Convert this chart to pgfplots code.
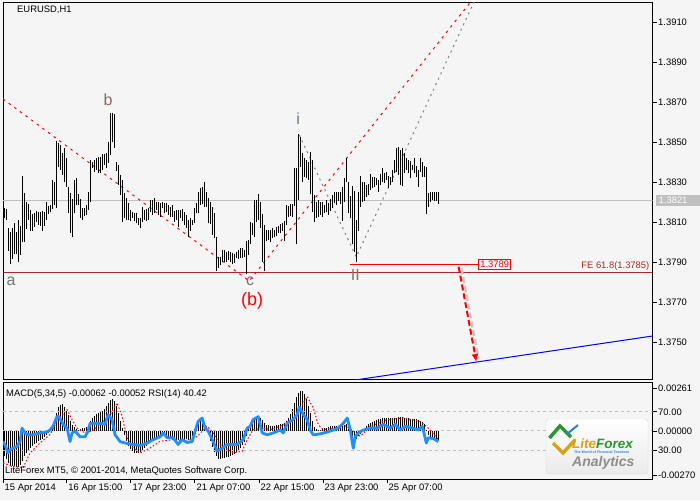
\documentclass[border=0pt]{standalone}
\usepackage{fontspec}
\setmainfont{Liberation Sans}
\usepackage{pgfplots}
\pgfplotsset{compat=1.18}
\usepackage{pgfplotstable}
\usetikzlibrary{arrows.meta}

\definecolor{bgc}{RGB}{245,245,245}
\definecolor{curgray}{RGB}{192,192,192}
\definecolor{fered}{RGB}{170,40,40}
\definecolor{levgray}{RGB}{190,190,190}
\definecolor{rsiblue}{RGB}{30,144,255}
\definecolor{lfgreen}{RGB}{40,150,50}
\definecolor{lfgold}{RGB}{215,165,20}
\definecolor{lfblue}{RGB}{40,130,210}

% H1 bars: x position (px), high, low, MACD main value
\pgfplotstableread{
x hi lo macd
4 1.38173 1.38120 -0.00153
6 1.38167 1.38112 -0.00171
8 1.38070 1.37958 -0.00195
10 1.38053 1.37890 -0.00207
12 1.38070 1.37917 -0.00214
14 1.38095 1.37940 -0.00214
16 1.38053 1.37940 -0.00220
18 1.38112 1.37900 -0.00220
20 1.38083 1.37937 -0.00207
22 1.38333 1.38003 -0.00183
24 1.38245 1.38000 -0.00153
26 1.38203 1.38067 -0.00134
28 1.38190 1.38112 -0.00116
30 1.38162 1.38057 -0.00104
32 1.38140 1.38057 -0.00092
34 1.38145 1.38078 -0.00079
36 1.38157 1.38103 -0.00073
38 1.38153 1.38087 -0.00061
40 1.38153 1.38083 -0.00055
42 1.38157 1.38057 -0.00049
44 1.38153 1.38083 -0.00037
46 1.38203 1.38112 -0.00024
48 1.38183 1.38140 -0.00012
50 1.38187 1.38150 0.00006
52 1.38312 1.38167 0.00031
54 1.38300 1.38187 0.00061
56 1.38507 1.38170 0.00110
58 1.38495 1.38378 0.00146
60 1.38487 1.38362 0.00159
62 1.38445 1.38337 0.00165
64 1.38470 1.38303 0.00146
66 1.38420 1.38278 0.00122
68 1.38278 1.38145 0.00098
70 1.38245 1.38045 0.00061
72 1.38217 1.38028 0.00037
74 1.38312 1.38145 0.00024
76 1.38320 1.38187 0.00012
78 1.38240 1.38187 0.00006
80 1.38217 1.38120 0.00012
82 1.38173 1.38112 0.00018
84 1.38173 1.38133 0.00018
86 1.38187 1.38137 0.00024
88 1.38253 1.38162 0.00031
90 1.38412 1.38203 0.00061
92 1.38403 1.38370 0.00079
94 1.38412 1.38353 0.00092
96 1.38420 1.38362 0.00104
98 1.38428 1.38345 0.00110
100 1.38428 1.38345 0.00116
102 1.38440 1.38362 0.00122
104 1.38440 1.38387 0.00134
106 1.38445 1.38370 0.00153
108 1.38500 1.38395 0.00171
110 1.38645 1.38437 0.00189
112 1.38645 1.38503 0.00195
114 1.38640 1.38470 0.00183
116 1.38403 1.38357 0.00153
118 1.38387 1.38287 0.00110
120 1.38337 1.38237 0.00061
122 1.38312 1.38100 0.00018
124 1.38245 1.38120 -0.00024
126 1.38220 1.38112 -0.00061
128 1.38195 1.38112 -0.00092
130 1.38162 1.38107 -0.00110
132 1.38153 1.38120 -0.00122
134 1.38145 1.38107 -0.00134
136 1.38145 1.38095 -0.00134
138 1.38123 1.38087 -0.00134
140 1.38123 1.38070 -0.00128
142 1.38178 1.38103 -0.00116
144 1.38162 1.38112 -0.00104
146 1.38167 1.38107 -0.00092
148 1.38170 1.38112 -0.00079
150 1.38212 1.38153 -0.00067
152 1.38212 1.38137 -0.00055
154 1.38220 1.38145 -0.00049
156 1.38203 1.38162 -0.00043
158 1.38203 1.38137 -0.00037
160 1.38195 1.38128 -0.00037
162 1.38203 1.38170 -0.00031
164 1.38195 1.38145 -0.00031
166 1.38195 1.38153 -0.00037
168 1.38187 1.38137 -0.00043
170 1.38178 1.38128 -0.00043
172 1.38187 1.38128 -0.00043
174 1.38157 1.38103 -0.00049
176 1.38162 1.38112 -0.00055
178 1.38162 1.38078 -0.00055
180 1.38162 1.38120 -0.00055
182 1.38167 1.38107 -0.00055
184 1.38150 1.38087 -0.00055
186 1.38137 1.38073 -0.00049
188 1.38112 1.38028 -0.00055
190 1.38120 1.38057 -0.00049
192 1.38112 1.38087 -0.00031
194 1.38170 1.38095 -0.00006
196 1.38195 1.38145 0.00031
198 1.38253 1.38145 0.00061
200 1.38270 1.38187 0.00079
202 1.38278 1.38190 0.00073
204 1.38300 1.38178 0.00049
206 1.38253 1.38178 0.00018
208 1.38220 1.38095 -0.00018
210 1.38203 1.38090 -0.00061
212 1.38178 1.38037 -0.00098
214 1.38145 1.38020 -0.00128
216 1.38028 1.37857 -0.00153
218 1.37928 1.37870 -0.00171
220 1.37928 1.37887 -0.00171
222 1.37962 1.37900 -0.00165
224 1.37962 1.37903 -0.00165
226 1.37953 1.37903 -0.00159
228 1.37957 1.37912 -0.00159
230 1.37950 1.37900 -0.00153
232 1.37945 1.37890 -0.00146
234 1.37940 1.37895 -0.00140
236 1.37953 1.37920 -0.00128
238 1.37962 1.37917 -0.00116
240 1.37970 1.37923 -0.00104
242 1.37973 1.37920 -0.00085
244 1.37962 1.37928 -0.00067
246 1.38007 1.37840 -0.00031
248 1.38012 1.37937 0.00012
250 1.38103 1.37990 0.00031
252 1.38095 1.38037 0.00049
254 1.38212 1.38028 0.00073
256 1.38212 1.38100 0.00085
258 1.38240 1.38112 0.00085
260 1.38203 1.38070 0.00079
262 1.38140 1.37903 0.00067
264 1.38087 1.37857 0.00049
266 1.38062 1.38007 0.00037
268 1.38062 1.38012 0.00037
270 1.38062 1.38003 0.00031
272 1.38073 1.38020 0.00031
274 1.38062 1.38028 0.00031
276 1.38078 1.38033 0.00037
278 1.38083 1.38045 0.00037
280 1.38090 1.38045 0.00043
282 1.38095 1.38057 0.00043
284 1.38107 1.38007 0.00049
286 1.38187 1.38087 0.00061
288 1.38183 1.38128 0.00079
290 1.38190 1.38133 0.00104
292 1.38190 1.38128 0.00134
294 1.38373 1.38183 0.00171
296 1.38370 1.37990 0.00207
298 1.38540 1.38212 0.00232
300 1.38528 1.38378 0.00244
302 1.38445 1.38303 0.00244
304 1.38420 1.38328 0.00226
306 1.38412 1.38320 0.00195
308 1.38403 1.38312 0.00153
310 1.38453 1.38240 0.00110
312 1.38412 1.38153 0.00061
314 1.38237 1.38103 0.00024
316 1.38200 1.38120 0.00012
318 1.38212 1.38128 0.00006
320 1.38200 1.38137 0.00006
322 1.38203 1.38128 0.00012
324 1.38187 1.38145 0.00018
326 1.38212 1.38150 0.00018
328 1.38195 1.38137 0.00024
330 1.38217 1.38157 0.00031
332 1.38237 1.38170 0.00031
334 1.38250 1.38195 0.00031
336 1.38250 1.38187 0.00031
338 1.38250 1.38207 0.00031
340 1.38250 1.38190 0.00037
342 1.38278 1.38107 0.00037
344 1.38323 1.38203 0.00037
346 1.38423 1.38300 0.00043
348 1.38300 1.38145 0.00012
350 1.38233 1.38120 -0.00024
352 1.38283 1.37990 -0.00055
354 1.38257 1.37953 -0.00061
356 1.38112 1.37900 -0.00049
358 1.38250 1.38057 -0.00031
360 1.38333 1.38178 -0.00018
362 1.38300 1.38203 -0.00006
364 1.38300 1.38207 0.00012
366 1.38287 1.38228 0.00031
368 1.38290 1.38237 0.00043
370 1.38340 1.38262 0.00049
372 1.38328 1.38270 0.00055
374 1.38328 1.38278 0.00061
376 1.38323 1.38287 0.00067
378 1.38312 1.38253 0.00073
380 1.38340 1.38287 0.00073
382 1.38373 1.38303 0.00079
384 1.38345 1.38295 0.00079
386 1.38350 1.38312 0.00079
388 1.38333 1.38270 0.00079
390 1.38328 1.38287 0.00079
392 1.38362 1.38303 0.00079
394 1.38412 1.38345 0.00079
396 1.38470 1.38353 0.00079
398 1.38478 1.38337 0.00085
400 1.38462 1.38287 0.00085
402 1.38473 1.38283 0.00085
404 1.38445 1.38345 0.00079
406 1.38423 1.38362 0.00079
408 1.38412 1.38345 0.00079
410 1.38407 1.38320 0.00073
412 1.38387 1.38362 0.00073
414 1.38423 1.38345 0.00073
416 1.38382 1.38328 0.00073
418 1.38362 1.38278 0.00067
420 1.38420 1.38353 0.00061
422 1.38403 1.38328 0.00055
424 1.38382 1.38328 0.00043
426 1.38378 1.38140 0.00006
428 1.38245 1.38178 -0.00024
430 1.38250 1.38203 -0.00043
432 1.38250 1.38212 -0.00049
434 1.38250 1.38207 -0.00055
436 1.38250 1.38207 -0.00061
438 1.38250 1.38190 -0.00062
}\bars

\begin{document}
\begin{tikzpicture}[x=1pt,y=1pt]
\useasboundingbox (0,0) rectangle (700,500);
\fill[bgc] (0,0) rectangle (700,500);

\pgfplotsset{
  mt/.style={
    anchor=south west, scale only axis, width=649.5pt,
    xmin=3, xmax=652,
    axis line style={black, line width=1pt},
    tick align=outside, major tick length=4pt,
    tick style={black, line width=0.8pt},
    ticklabel style={font=\fontsize{9.4}{11}\selectfont, inner sep=0pt},
    ytick pos=right, yticklabel pos=right,
    yticklabel style={anchor=west, xshift=1.5pt},
    scaled y ticks=false,
    clip mode=individual,
  }
}

% ---------- price window (plotted in pips above 1.3700) ----------
\begin{axis}[mt, at={(3pt,120pt)}, height=377pt,
  y filter/.expression={(y-1.37)*10000},
  ymin=31.2, ymax=219.7,
  xtick=\empty,
  ytick={50,70,90,110,130,150,170,190,210},
  yticklabels={1.3750,1.3770,1.3790,1.3810,1.3830,1.3850,1.3870,1.3890,1.3910},
]
\addplot[curgray, line width=1pt] coordinates {(3,1.3821) (652,1.3821)};
\addplot[fered, line width=1pt] coordinates {(3,1.3785) (652,1.3785)};
\addplot[red, line width=1pt] coordinates {(350,1.3789) (478,1.3789)};
\addplot[blue, line width=1pt] coordinates {(355,1.37312) (652,1.37532)};
% wave lines
\addplot[red, line width=1pt, dash pattern=on 2.5pt off 4.5pt] coordinates {(3,1.38717) (249,1.37807) (475,1.39232)};
\addplot[gray, line width=1pt, dash pattern=on 2pt off 4pt] coordinates {(299,1.38537) (356,1.37927) (474.5,1.39212)};

\addplot[draw=none, mark=none,
  error bars/.cd, y dir=plus, y explicit, error mark=none,
  error bar style={draw=black, line width=1pt}]
  table[x=x, y=lo, y error expr=(\thisrow{hi}-\thisrow{lo})*10000] {\bars};

% forecast arrow
\addplot[black!22, line width=2.5pt, dash pattern=on 6pt off 3pt] coordinates {(461,1.37870) (478,1.37420)};
\addplot[red, line width=2pt, dash pattern=on 6pt off 3pt, -{Latex[length=8pt,width=7pt]}] coordinates {(458.3,1.37878) (476,1.37402)};

\node[draw=red, fill=bgc, text=red, anchor=west, inner xsep=1.5pt, inner ysep=1.5pt, line width=1pt,
  font=\fontsize{9.4}{11}\selectfont] at (axis cs:478,89) {1.3789};
\node[text=fered, anchor=south east, inner sep=1.5pt, font=\fontsize{9.4}{11}\selectfont]
  at (axis cs:650.5,85) {FE 61.8(1.3785)};
\node[fill=curgray, text=white, anchor=west, inner xsep=3pt, inner ysep=0pt, minimum height=11pt,
  text width=39pt, align=left, font=\fontsize{9.4}{11}\selectfont] at (axis cs:655,121) {1.3821};

% wave labels
\node[text=black!55, font=\fontsize{16}{18}\selectfont] at (axis cs:11,80.7) {a};
\node[text={rgb,255:red,135;green,105;blue,105}, font=\fontsize{16}{18}\selectfont] at (axis cs:108,171.2) {b};
\node[text=black!55, font=\fontsize{16}{18}\selectfont] at (axis cs:250,80.7) {c};
\node[text=red, font=\fontsize{18}{20}\selectfont] at (axis cs:252,70.7) {(b)};
\node[text={rgb,255:red,105;green,120;blue,140}, font=\fontsize{16}{18}\selectfont] at (axis cs:298,161.7) {i};
\node[text={rgb,255:red,120;green,120;blue,105}, font=\fontsize{16}{18}\selectfont] at (axis cs:355,83.7) {II};
\end{axis}

% ---------- MACD (plotted in units of 1e-5) ----------
\begin{axis}[mt, at={(3pt,21pt)}, height=96pt,
  y filter/.expression={y*100000},
  ymin=-294, ymax=294,
  xtick={3,66.7,130.7,194.7,258.7,322.7,386.7},
  xticklabels={15 Apr 2014,16 Apr 15:00,17 Apr 23:00,21 Apr 07:00,22 Apr 15:00,23 Apr 23:00,25 Apr 07:00},
  xtick pos=bottom,
  xticklabel style={anchor=north west, xshift=1.5pt, yshift=-1pt},
  ytick={-270,0,261},
  yticklabels={-0.00270,0.00000,0.00261},
]
\addplot[levgray, line width=1pt, dash pattern=on 3pt off 3pt] coordinates {(3,0) (652,0)};
\addplot[ycomb, black, line width=1pt, mark=none] table[x=x, y=macd] {\bars};
\addplot[red, line width=1pt, dash pattern=on 1.5pt off 2pt] coordinates {
(3,-0.00196) (12,-0.00215) (23,-0.00226) (30,-0.00135) (40,-0.00073) (50,-0.00022)
(58,0.00069) (67,0.00131) (72,0.00069) (77,0.00018) (85,-0.00012) (92,0) (100,0.00039)
(110,0.00100) (117,0.00171) (122,0.00090) (127,-0.00043) (133,-0.00104) (140,-0.00135)
(150,-0.00104) (160,-0.00063) (173,-0.00053) (187,-0.00063) (197,-0.00033) (207,0.00029)
(213,-0.00012) (220,-0.00084) (233,-0.00135) (242,-0.00124) (247,-0.00053) (253,0.00008)
(263,0.00018) (270,0.00008) (280,0.00029) (293,0.00069) (307,0.00212) (313,0.00141)
(318,0.00039) (323,0.00008) (333,0.00018) (343,0.00039) (353,0) (360,-0.00033)
(370,0.00029) (387,0.00069) (403,0.00080) (420,0.00059) (428,0.00018) (438,-0.00052)
};
\end{axis}

% ---------- RSI ----------
\begin{axis}[mt, at={(3pt,21pt)}, height=96pt,
  ymin=0, ymax=100,
  hide x axis, axis y line*=right,
  ytick={30,70}, yticklabels={30.00,70.00},
]
\addplot[levgray, line width=1pt, dash pattern=on 3pt off 3pt] coordinates {(3,70) (652,70)};
\addplot[levgray, line width=1pt, dash pattern=on 3pt off 3pt] coordinates {(3,30) (652,30)};
\addplot[rsiblue, line width=2.8pt, line join=round] coordinates {
(3,39) (5,36) (8,27) (10,30.5) (13,32) (17,34) (20,39) (22,53) (25,48) (28,46) (33,46)
(40,48) (47,49) (50,51) (53,55) (57,65) (59,65) (63,57) (67,53) (70,39) (72,48) (75,50)
(80,44) (85,44) (88,50) (90,58) (95,58) (100,58) (105,57) (108,67) (112,62) (115,46)
(120,39) (125,37.5) (132,36) (140,35) (147,37.5) (153,41) (160,44) (163,48) (167,43)
(173,43) (178,36) (182,41) (187,38) (192,39) (195,50) (198,60) (202,63.5) (205,53)
(208,50) (213,39) (217,29) (222,32) (227,36) (237,36) (243,41) (247,53) (250,55)
(253,62) (258,65) (262,48) (267,46) (273,48) (280,51) (283,48) (287,58) (293,62)
(297,67) (299,75) (303,67) (307,62) (310,51) (313,46) (320,47) (327,49) (333,51)
(338,53) (343,58) (347,63.5) (350,51) (353,32) (355,44) (358,48) (363,51) (370,53)
(377,53) (383,57) (390,53) (395,57) (400,51) (405,55) (412,53) (418,51) (422,55)
(426,37.5) (428,43) (433,42) (438,39)
};
\end{axis}

% ---------- texts ----------
\node[anchor=north west, inner sep=0pt, font=\fontsize{9.4}{11}\selectfont] at (17,494) {EURUSD,H1};
\node[anchor=north west, inner sep=0pt, font=\fontsize{9.4}{11}\selectfont] at (6,111) {MACD(5,34,5) -0.00062 -0.00052 RSI(14) 40.42};
\node[anchor=north west, inner sep=0pt, font=\fontsize{9.4}{11}\selectfont] at (5,33.5) {LiteForex MT5, © 2001-2014, MetaQuotes Software Corp.};

% ---------- logo ----------
\shade[rounded corners=3pt, top color=white, bottom color=black!8, draw=black!15] (546,26) rectangle (648,81);
\draw[lfgreen, line width=3.5pt, line join=miter] (549.5,62) -- (560,74) -- (571,63);
\draw[lfgold, line width=3.5pt, line join=miter] (553,57) -- (563,47) -- (575,60);
\draw[lfblue, line width=2pt] (567,66) -- (578,75);
\node[anchor=west, inner sep=0pt, font=\fontsize{13.5}{15}\selectfont\bfseries\itshape] at (572,56)
  {\textcolor{lfgold}{Lite}\textcolor{lfgreen}{Forex}};
\node[anchor=west, inner sep=0pt, text=lfblue, font=\fontsize{3.6}{4}\selectfont\bfseries] at (574,48)
  {The World of Financial Freedom};
\node[anchor=west, inner sep=0pt, text=black!45, font=\fontsize{14}{16}\selectfont\bfseries\itshape] at (572,37)
  {Analytics};
\end{tikzpicture}
\end{document}
